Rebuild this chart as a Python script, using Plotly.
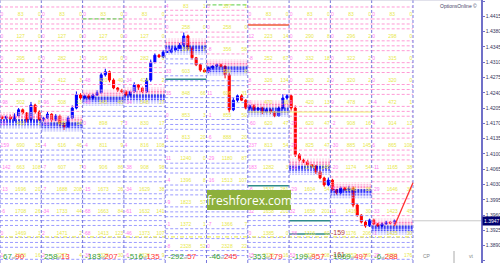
import plotly.graph_objects as go

# ---------------- data ----------------
closes = [
    1.4182, 1.4185, 1.4180, 1.4187, 1.4201, 1.4194, 1.4178, 1.4212, 1.4196, 1.4178,
    1.4182, 1.4191, 1.4178, 1.4187, 1.4169, 1.4162, 1.4182, 1.4205, 1.4235, 1.4228,
    1.4233, 1.4228, 1.4235, 1.4240, 1.4281, 1.4288, 1.4269, 1.4251, 1.4246, 1.4242,
    1.4235, 1.4242, 1.4258, 1.4251, 1.4242, 1.4269, 1.4310, 1.4326, 1.4322, 1.4333,
    1.4333, 1.4338, 1.4342, 1.4349, 1.4370, 1.4342, 1.4320, 1.4304, 1.4292, 1.4288,
    1.4297, 1.4301, 1.4304, 1.4301, 1.4281, 1.4201, 1.4223, 1.4233, 1.4223, 1.4205,
    1.4210, 1.4201, 1.4205, 1.4196, 1.4201, 1.4196, 1.4187, 1.4205, 1.4228, 1.4233,
    1.4205, 1.4098, 1.4086, 1.4082, 1.4075, 1.4072, 1.4059, 1.4045, 1.4029, 1.4040,
    1.4018, 1.4011, 1.4022, 1.4018, 1.4022, 1.3983, 1.3960, 1.3944, 1.3935, 1.3949,
    1.3940, 1.3935, 1.3940, 1.3944, 1.3942, 1.3947,
]
first_open = 1.4184
wick_up = [4, 3, 5, 6, 4, 3, 2, 7, 3, 4, 3, 5, 2, 4, 3, 2, 5, 6, 8, 4,
           3, 4, 3, 6, 5, 7, 3, 4, 2, 3, 4, 3, 6, 2, 3, 5, 6, 4, 3, 5,
           3, 4, 2, 5, 8, 3, 4, 2, 3, 4, 3, 2, 4, 3, 2, 5, 6, 3, 4, 2,
           3, 4, 2, 3, 4, 3, 2, 5, 9, 4, 3, 6, 4, 3, 5, 2, 3, 4, 3, 6,
           3, 2, 4, 3, 5, 4, 3, 2, 4, 3, 3, 2, 4, 3, 2, 3]
wick_dn = [3, 4, 2, 5, 3, 4, 6, 3, 4, 2, 4, 2, 5, 3, 6, 7, 3, 2, 3, 4,
           2, 3, 4, 2, 3, 4, 5, 3, 4, 2, 3, 4, 2, 5, 3, 2, 4, 3, 2, 3,
           2, 3, 4, 2, 3, 5, 4, 3, 4, 2, 3, 4, 2, 3, 8, 6, 3, 4, 2, 3,
           4, 3, 2, 5, 3, 4, 3, 2, 3, 4, 6, 5, 4, 3, 2, 4, 5, 3, 4, 3,
           2, 4, 3, 2, 4, 5, 4, 3, 4, 2, 3, 2, 3, 2, 3, 2]
forecast_x = [95, 99.5]
forecast_y = [1.3935, 1.4034]
current_price = 1.3947

day_result_a = [67, 258, -183, -516, -292, -46, -353, -199, 1069, -6]
day_result_b = [90, 13, 207, 135, 57, 245, 179, 957, 497, 288]

row_prices = [1.4418, 1.4368, 1.4318, 1.4268, 1.4218, 1.4168,
              1.4118, 1.4068, 1.4018, 1.3968, 1.3918, 1.3868]
row_shift = [0, 0, 0, 0, 0.0020, 0.0020, 0, 0, 0, 0]
band_prices = [1.4178, 1.4171, 1.4230, 1.4235, 1.4347,
               1.4299, 1.4205, 1.4072, 1.4018, 1.3935]

mid_labels = [
    [83, 127, 295, 386, 502, 463, 690, 663, 1696, 1708, 1469, 2328],
    [83, 127, 282, 412, 508, 455, 616, 607, 1688, 1733, 1471, 2272],
    [83, 127, 295, 420, 545, 898, 811, 906, 1673, 1663, 1413, 2328],
    [83, 127, 282, 424, 548, 830, 816, 908, 1629, 1632, 1373, 2328],
    [83, 258, 329, 603, 848, 853, 813, 1240, 1396, 1823, 1372, 2328],
    [307, 258, 356, 580, 606, 855, 888, 1180, 1513, 1823, 1366, 2328],
    [83, 223, 252, 326, 470, 620, 813, 1282, 1537, 1658, 1385, 2328],
    [83, 290, 332, 320, 420, 620, 825, 1174, 1604, 1658, 1316, 2328],
    [83, 296, 322, 320, 478, 908, 885, 1174, 1646, 1416, 1176, 2057],
    [83, 298, 315, 320, 472, 914, 865, 1165, 1646, 1423, 1425, 2291],
]
left_labels = [
    [0, 0, 0, 0, -98, 23, 159, -142, -13, -6, 0, 1],
    [0, 0, 0, 0, -96, -30, -4, -7, -7, -34, 2, 2],
    [0, 0, 0, -48, -48, 0, -4, 0, -15, -68, -68, -36],
    [0, 0, 0, -34, -34, 3, 4, -38, -34, -61, -46, -6],
    [4, 0, 0, 33, 35, 0, 1, 11, -4, -9, -1, -8],
    [0, 0, -8, 4, 11, -1, -6, -29, -16, -9, -7, 0],
    [0, 12, -8, 8, 4, -60, 237, 183, -6, 32, 0, 15],
    [0, 0, 0, 0, 9, -27, -27, -18, -29, 32, -38, 53],
    [0, 0, 0, 0, 9, -2, -30, -20, -5, 11, -159, -161],
    [0, 0, 0, 0, -4, 4, 6, -11, -29, -33, -1, -29],
]
right_labels = [
    [0, 0, 0, 1, 8, 1, 35, 108, 20, 26, 1, 16],
    [0, 0, 1, 3, 13, 14, 46, 7, 208, 44, 2, 4],
    [0, 0, 0, 40, 40, 7, 9, 86, 26, 84, 123, 30],
    [0, 0, 0, 2, 17, 17, 108, 98, 38, 141, 107, 9],
    [1, 0, 0, 1, 66, 3, 20, 0, 8, 57, 1, 52],
    [1, 0, 58, 8, 31, 50, 20, 87, 107, 7, 7, 22],
    [0, 14, 67, 134, 16, 47, 54, 3, 281, 201, 0, 16],
    [0, 8, 18, 2, 13, 47, 47, 145, 54, 201, 60, 108],
    [0, 2, 2, 2, 2, 16, 145, 54, 38, 30, 206, 209],
    [0, 0, 0, 0, 1, 13, 108, 38, 38, 45, 30, 176],
]

teal_levels = [(4, 1.4271), (6, 1.4027), (7, 1.3947), (7, 1.3917)]
orange_levels = [(6, 1.4395)]
green_levels = [(2, 1.4409), (5, 1.4441)]
yellow_levels = [(6, 1.4196), (7, 1.4196), (8, 1.4196)]
yellow_dot_level = 1.3910

axis_ticks = [1.4450, 1.4415, 1.4380, 1.4345, 1.4310, 1.4275, 1.4240, 1.4205, 1.4170,
              1.4135, 1.4100, 1.4065, 1.4030, 1.3995, 1.3960, 1.3925, 1.3890, 1.3855]

# ---------------- styling constants ----------------
PPU = 4370.0
Y_RANGE = [1.38504, 1.44523]
X_RANGE = [-0.5, 115.97]
N_PER_DAY = 10
FONT = "Liberation Sans"
PINK = "#ff9ad5"
BLUE = "#9c9cff"
YEL = "#e8e84a"
emph_cells = [(8, 10), (8, 11)]
band_style = [(-7, "#ffc6e2"), (-5, "#ffa0cf"), (-3.5, "#ff80bf"), (-2, "#ff66aa"),
              (0, "#0000c8"), (1, "#0000e8"), (2, "#0000ff"), (3, "#1e1eff"),
              (4.5, "#5050ff"), (6, "#8080ff"), (8, "#b4b4ff")]

fig = go.Figure()

groups = {}


def seg(x0, x1, y, color, dash, width=1.0):
    key = (color, dash, width)
    g = groups.setdefault(key, {"x": [], "y": []})
    g["x"] += [x0, x1, None]
    g["y"] += [y, y, None]


n_days = len(band_prices)
for d in range(n_days):
    x0 = d * N_PER_DAY - 0.5
    x1 = x0 + N_PER_DAY
    band = band_prices[d]
    for rp in row_prices:
        base = rp + row_shift[d]
        for off in (-8, 4, 9):
            p = base - off / PPU
            if p > band + 9 / PPU:
                seg(x0, x1, p, PINK, "3px,2px")
            elif p < band - 11 / PPU:
                seg(x0, x1, p, BLUE, "3px,2px")
    for off, col in band_style:
        seg(x0, x1, band - off / PPU, col, "2px,1px")

for d, p in teal_levels:
    seg(d * N_PER_DAY - 0.5, d * N_PER_DAY + 9.5, p, "#2e8b8b", "solid", 1.5)
for d, p in orange_levels:
    seg(d * N_PER_DAY - 0.5, d * N_PER_DAY + 9.5, p, "#ee5a3a", "solid", 1.5)
for d, p in green_levels:
    seg(d * N_PER_DAY - 0.5, d * N_PER_DAY + 9.5, p, "#7ad86a", "4px,2px", 1.2)
for d, p in yellow_levels:
    seg(d * N_PER_DAY - 0.5, d * N_PER_DAY + 9.5, p, "#f0f070", "solid", 1.2)
seg(-0.5, n_days * N_PER_DAY - 0.5, yellow_dot_level, "#f0f060", "4px,2px,1px,2px", 1.2)

for (color, dash, width), g in groups.items():
    fig.add_trace(go.Scatter(x=g["x"], y=g["y"], mode="lines",
                             line=dict(color=color, dash=dash, width=width),
                             hoverinfo="skip", showlegend=False))

# column separators
sep_x, sep_y = [], []
for d in range(n_days + 1):
    xs = d * N_PER_DAY - 0.5
    sep_x += [xs, xs, None]
    sep_y += [Y_RANGE[0], Y_RANGE[1], None]
fig.add_trace(go.Scatter(x=sep_x, y=sep_y, mode="lines",
                         line=dict(color="#7777dd", dash="3px,2px", width=1),
                         hoverinfo="skip", showlegend=False))

# strike labels
lx, ly, lt, lc, ls = [], [], [], [], []
mx, my, mt = [], [], []
rx, ry, rt = [], [], []
for d in range(n_days):
    x0 = d * N_PER_DAY - 0.5
    for k, rp in enumerate(row_prices):
        p = rp + row_shift[d]
        lx.append(x0 + 0.15)
        ly.append(p)
        lt.append(str(left_labels[d][k]))
        if (d, k) in emph_cells:
            lc.append("#b03a3a")
            ls.append(7)
        else:
            lc.append("#ff80ee")
            ls.append(5)
        mx.append(x0 + N_PER_DAY / 2)
        my.append(p)
        mt.append(str(mid_labels[d][k]))
        rx.append(x0 + N_PER_DAY - 0.15)
        ry.append(p)
        rt.append(str(right_labels[d][k]))

fig.add_trace(go.Scatter(x=lx, y=ly, text=lt, mode="text", textposition="middle right",
                         textfont=dict(family=FONT, size=ls, color=lc),
                         hoverinfo="skip", showlegend=False))
fig.add_trace(go.Scatter(x=mx, y=my, text=mt, mode="text", textposition="middle center",
                         textfont=dict(family=FONT, size=5, color=YEL),
                         hoverinfo="skip", showlegend=False))
fig.add_trace(go.Scatter(x=rx, y=ry, text=rt, mode="text", textposition="middle left",
                         textfont=dict(family=FONT, size=5, color=YEL),
                         hoverinfo="skip", showlegend=False))

# candles
opens = [first_open] + closes[:-1]
highs = [max(o, c) + w * 0.0001 for o, c, w in zip(opens, closes, wick_up)]
lows = [min(o, c) - w * 0.0001 for o, c, w in zip(opens, closes, wick_dn)]
idx = list(range(len(closes)))
fig.add_trace(go.Candlestick(
    x=idx, open=opens, high=highs, low=lows, close=closes,
    increasing=dict(line=dict(color="#0000ff", width=1), fillcolor="#0000ff"),
    decreasing=dict(line=dict(color="#ff0000", width=1), fillcolor="#ff0000"),
    whiskerwidth=0, showlegend=False, hoverinfo="skip"))

fig.add_trace(go.Scatter(x=forecast_x, y=forecast_y, mode="lines",
                         line=dict(color="#ff3030", width=1.3),
                         hoverinfo="skip", showlegend=False))
fig.add_trace(go.Scatter(x=[forecast_x[1], X_RANGE[1]], y=[current_price, current_price],
                         mode="lines", line=dict(color="#c8c8c8", width=1),
                         hoverinfo="skip", showlegend=False))

annotations = []
for d in range(n_days):
    a, b = day_result_a[d], day_result_b[d]
    annotations.append(dict(
        x=d * N_PER_DAY - 0.35, xref="x", y=0, yref="paper",
        xanchor="left", yanchor="bottom", yshift=0, showarrow=False,
        text=(f"<span style='color:#38a038'>{a}</span>"
              f"<span style='font-size:4px;color:#888888'>of</span>"
              f"<span style='color:#ff3535'>{b}</span>"),
        font=dict(family=FONT, size=8)))
annotations += [
    dict(x=0.995, xref="paper", y=1, yref="paper", xanchor="right", yanchor="top",
         yshift=-1, showarrow=False, text="OptionsOnline ©",
         font=dict(family=FONT, size=5, color="#444466")),
    dict(x=433 / 481, xref="paper", y=0, yref="paper", yanchor="bottom", yshift=2,
         showarrow=False, text="CP", font=dict(family=FONT, size=5, color="#888888")),
    dict(x=476 / 481, xref="paper", y=0, yref="paper", yanchor="bottom", yshift=2,
         showarrow=False, text="vt", font=dict(family=FONT, size=5, color="#888888")),
    dict(x=1, xref="paper", y=current_price, yref="y", xanchor="left", xshift=1,
         showarrow=False, text=f"{current_price:.4f}", bgcolor="#000070", borderpad=1,
         font=dict(family=FONT, size=5, color="#ffffff")),
    dict(x=(207 + 291) / 2 / 481, xref="paper", y=1 - 200 / 263, yref="paper",
         xanchor="center", yanchor="middle",
         showarrow=False, text="freshforex.com",
         font=dict(family="Open Sans", size=12, color="#ffffff")),
]

shapes = [
    dict(type="rect", xref="paper", yref="paper", x0=207 / 481, x1=291 / 481,
         y0=1 - 210 / 263, y1=1 - 190 / 263, fillcolor="#8db03c", line=dict(width=0),
         layer="above"),
    dict(type="line", xref="paper", yref="paper", x0=0, x1=1, y0=1, y1=1,
         line=dict(color="#c4c4d8", width=1)),
    dict(type="line", xref="paper", yref="paper", x0=454 / 481, x1=454 / 481,
         y0=0, y1=12 / 263, line=dict(color="#aaaaaa", width=1)),
]

fig.update_layout(
    width=500, height=263, margin=dict(l=0, r=19, t=0, b=0),
    paper_bgcolor="#ffffff", plot_bgcolor="#ffffff",
    showlegend=False, annotations=annotations, shapes=shapes,
    xaxis=dict(range=X_RANGE, visible=False, rangeslider=dict(visible=False),
               fixedrange=True),
    yaxis=dict(range=Y_RANGE, side="right", showgrid=False, zeroline=False,
               tickvals=axis_ticks, ticktext=[f"{v:.4f}" for v in axis_ticks],
               ticks="outside", ticklen=2, tickcolor="#7070c8",
               showline=True, linecolor="#7070c8", linewidth=1.5,
               tickfont=dict(family=FONT, size=5, color="#33335a"),
               automargin=False, fixedrange=True),
)

fig.write_html("out.html")
